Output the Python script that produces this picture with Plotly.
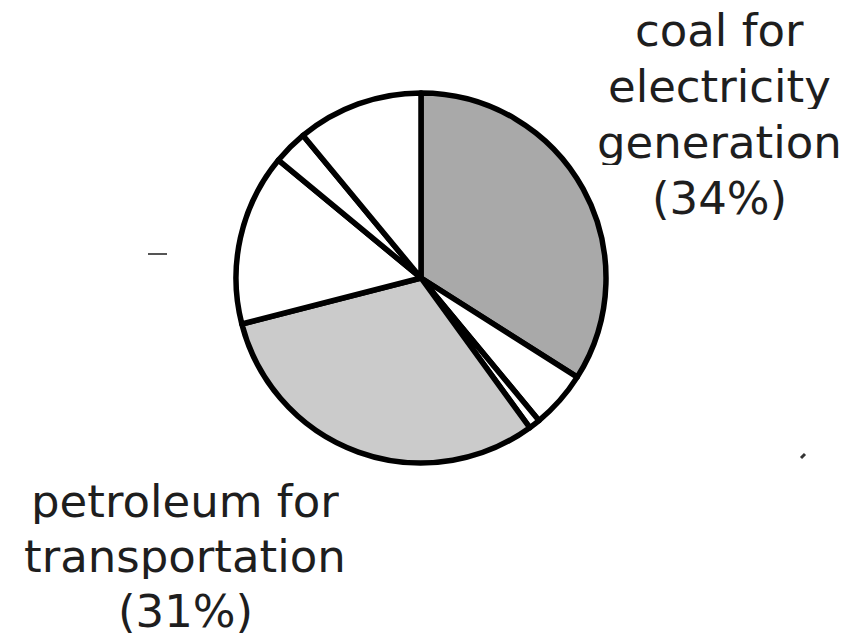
import plotly.graph_objects as go

# Energy-source shares, clockwise from 12 o'clock
sources = [
    "coal for electricity generation",
    "other 1",
    "other 2",
    "petroleum for transportation",
    "other 3",
    "other 4",
    "other 5",
]
shares = [34, 5, 1, 31, 15, 3, 11]
slice_colors = ["#a9a9a9", "#ffffff", "#ffffff", "#cbcbcb", "#ffffff", "#ffffff", "#ffffff"]

coal_label = ["coal for", "electricity", "generation", "(34%)"]
petrol_label = ["petroleum for", "transportation", "(31%)"]

W, H = 859, 636
cx, cy, r = 421, 278, 185

fig = go.Figure(
    go.Pie(
        labels=sources,
        values=shares,
        sort=False,
        direction="clockwise",
        rotation=0,
        marker=dict(colors=slice_colors, line=dict(color="#000000", width=5.5)),
        textinfo="none",
        hoverinfo="label+percent",
        showlegend=False,
        domain=dict(
            x=[(cx - r) / W, (cx + r) / W],
            y=[1 - (cy + r) / H, 1 - (cy - r) / H],
        ),
    )
)

font = dict(family="DejaVu Sans, Verdana, sans-serif", size=45, color="#1e1e1e")
annotations = []


def add_lines(lines, x_center, first_baseline, spacing):
    for i, line in enumerate(lines):
        baseline = first_baseline + i * spacing
        yc = baseline - 14
        annotations.append(
            dict(
                text=line,
                x=x_center / W,
                y=1 - yc / H,
                xref="paper",
                yref="paper",
                xanchor="center",
                yanchor="middle",
                height=46,
                valign="middle",
                showarrow=False,
                font=font,
            )
        )


add_lines(coal_label, 719, 44, 56)
add_lines(petrol_label, 185, 515, 55)

fig.update_layout(
    width=W,
    height=H,
    margin=dict(l=0, r=0, t=0, b=0),
    paper_bgcolor="#ffffff",
    plot_bgcolor="#ffffff",
    annotations=annotations,
    shapes=[
        dict(type="line", xref="paper", yref="paper",
             x0=148 / W, x1=167 / W, y0=1 - 254 / H, y1=1 - 254 / H,
             line=dict(color="#555555", width=2)),
        dict(type="line", xref="paper", yref="paper",
             x0=801 / W, x1=805 / W, y0=1 - 458 / H, y1=1 - 454 / H,
             line=dict(color="#333333", width=3)),
    ],
)

fig.write_html("out.html")
